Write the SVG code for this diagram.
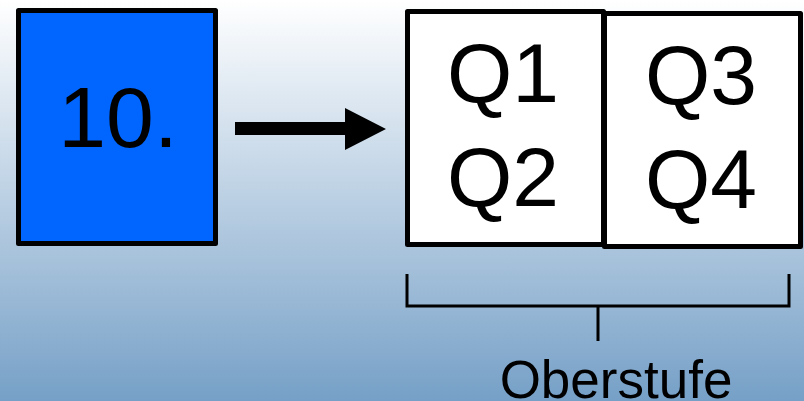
<svg xmlns="http://www.w3.org/2000/svg" width="804" height="401" viewBox="0 0 804 401">
<defs>
<linearGradient id="bg" x1="0" y1="0" x2="0" y2="1">
<stop offset="0" stop-color="#ffffff"/>
<stop offset="1" stop-color="#76a0c7"/>
</linearGradient>
<style>
.box{stroke:#000;stroke-width:5;stroke-linejoin:round}
.t{font-family:"Liberation Sans",Arial,sans-serif;fill:#000;text-anchor:middle}
.br{fill:none;stroke:#000;stroke-width:3}
</style>
</defs>
<rect x="0" y="0" width="804" height="401" fill="url(#bg)"/>
<g id="node-10">
<rect class="box" x="18.5" y="10.5" width="197" height="233" fill="#0066ff"/>
<text class="t" x="118" y="147" font-size="86">10.</text>
</g>
<g id="node-q12">
<rect class="box" x="407.5" y="11.5" width="196" height="233" fill="#ffffff"/>
<text class="t" x="503" y="102" font-size="84">Q1</text>
<text class="t" x="503" y="206" font-size="84">Q2</text>
</g>
<g id="node-q34">
<rect class="box" x="604.5" y="13.5" width="196" height="233" fill="#ffffff"/>
<text class="t" x="701" y="104" font-size="84">Q3</text>
<text class="t" x="701" y="208" font-size="84">Q4</text>
</g>
<g id="connectors">
<polygon points="235,122 345,122 345,108 386,129 345,150 345,135 235,135" fill="#000"/>
</g>
<g id="bracket">
<path class="br" d="M407,274 V306 H789 V274 M598,306 V341"/>
<text class="t" x="616" y="398" font-size="53">Oberstufe</text>
</g>
</svg>
